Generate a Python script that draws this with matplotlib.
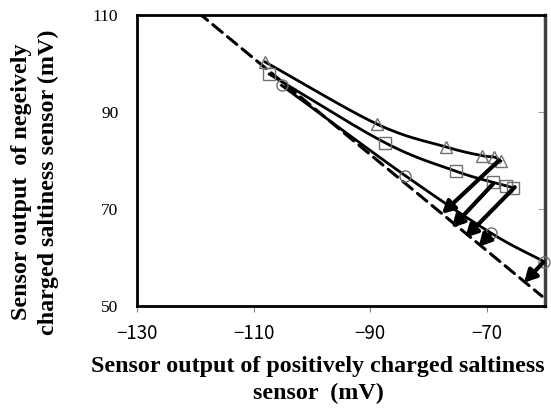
import numpy as np
import matplotlib
matplotlib.use('Agg')
import matplotlib.pyplot as plt

# Data
tri_x = [-108.0, -88.8, -77.0, -70.8, -68.7, -67.6]
tri_y = [100.3, 87.5, 82.8, 81.0, 80.7, 79.9]
sq_x = [-107.3, -87.5, -75.3, -68.9, -66.7, -65.5]
sq_y = [97.8, 83.7, 77.8, 75.5, 74.8, 74.4]
cir_x = [-105.2, -84.0, -69.2, -60.1]
cir_y = [95.5, 76.9, 65.0, 59.1]

# dashed reference line end points
dash_x = [-119.5, -60.5]
dash_y = [110.5, 52.0]

# arrows (start -> end)
arr_x0 = [-67.9, -68.9, -65.2, -69.4, -60.3]
arr_y0 = [80.0, 75.2, 74.5, 64.8, 59.0]
arr_x1 = [-77.7, -76.0, -73.7, -71.4, -63.6]
arr_y1 = [69.0, 66.1, 64.1, 62.2, 54.8]

xticks = [-130, -110, -90, -70]
yticks = [50, 70, 90, 110]


def smooth(x, y, n=30):
    # Catmull-Rom curve through the points (like Excel smoothed lines)
    x = np.asarray(x, float)
    y = np.asarray(y, float)
    px = np.concatenate([[2 * x[0] - x[1]], x, [2 * x[-1] - x[-2]]])
    py = np.concatenate([[2 * y[0] - y[1]], y, [2 * y[-1] - y[-2]]])
    t = np.linspace(0, 1, n)
    out_x, out_y = [], []
    for i in range(1, len(px) - 2):
        for p, out in ((px, out_x), (py, out_y)):
            p0, p1, p2, p3 = p[i - 1], p[i], p[i + 1], p[i + 2]
            out.extend(0.5 * (2 * p1 + (-p0 + p2) * t
                              + (2 * p0 - 5 * p1 + 4 * p2 - p3) * t ** 2
                              + (-p0 + 3 * p1 - 3 * p2 + p3) * t ** 3))
    return out_x, out_y


fig = plt.figure(figsize=(5.51, 4.09), dpi=100)
ax = fig.add_axes([137 / 551, 1 - 306 / 409, 408 / 551, 291 / 409])

ax.plot(dash_x, dash_y, color='black', lw=2.2, linestyle=(0, (4, 2.2)),
        dash_capstyle='round')

for xs, ys, m in ((tri_x, tri_y, '^'), (sq_x, sq_y, 's'), (cir_x, cir_y, 'o')):
    sx, sy = smooth(xs, ys)
    ax.plot(sx, sy, color='black', lw=2, zorder=3)
    ax.plot(xs, ys, linestyle='none', marker=m, markersize=8,
            markerfacecolor='none', markeredgecolor='#707070',
            markeredgewidth=1, zorder=4, clip_on=False)

for x0, y0, x1, y1 in zip(arr_x0, arr_y0, arr_x1, arr_y1):
    ax.annotate('', xy=(x1, y1), xytext=(x0, y0),
                arrowprops=dict(arrowstyle='-|>,head_width=0.32,head_length=0.6',
                                lw=3, color='black', mutation_scale=12,
                                shrinkA=0, shrinkB=0), zorder=5)

ax.set_xlim(-130, -60)
ax.set_ylim(50, 110)
ax.set_xticks(xticks)
ax.set_xticklabels(['\u2212' + str(abs(v)) for v in xticks],
                   family=['Noto Sans CJK JP', 'DejaVu Sans'], fontsize=13.5)
ax.set_yticks(yticks)
ax.set_yticklabels([str(v) for v in yticks], family='Liberation Serif', fontsize=12.5)
ax.tick_params(axis='x', direction='out', length=4, color='#808080', pad=8)
ax.tick_params(axis='y', left=False, right=True, direction='in', length=5,
               color='#a0a0a0', pad=13.5)

for side in ('left', 'bottom', 'top'):
    ax.spines[side].set_linewidth(2)
    ax.spines[side].set_color('black')
ax.spines['right'].set_linewidth(2.5)
ax.spines['right'].set_color('#404040')

fig.text(318 / 551, 1 - 380 / 409,
         'Sensor output of positively charged saltiness\nsensor  (mV)',
         ha='center', va='center', family='Liberation Serif', weight='bold',
         fontsize=17.3, linespacing=1.4)
fig.text(35 / 551, 1 - 182 / 409,
         'Sensor output  of negeively\ncharged saltiness sensor (mV)',
         ha='center', va='center', rotation=90, family='Liberation Serif',
         weight='bold', fontsize=17.3, linespacing=1.35)

fig.savefig('out.png', dpi=100)
